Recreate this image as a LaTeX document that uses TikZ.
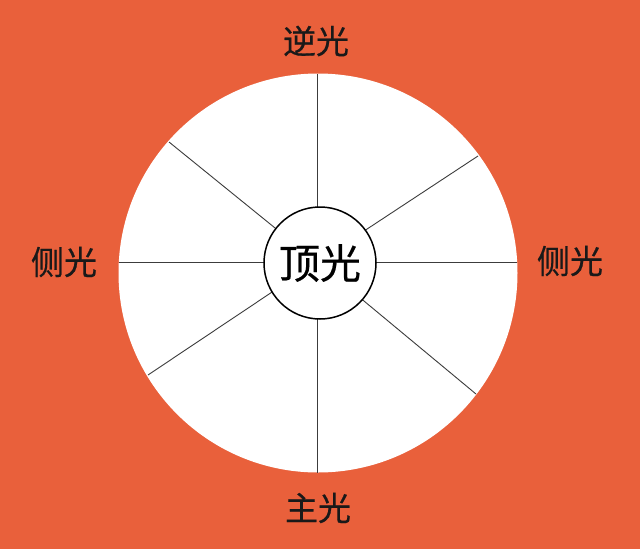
\documentclass[tikz,border=0pt]{standalone}
\usepackage{fontspec}
\newfontfamily\cjk[FakeBold=0.5]{Noto Sans CJK SC}
\definecolor{bgorange}{RGB}{233,96,59}
\definecolor{spokegray}{RGB}{60,60,60}
\begin{document}
\begin{tikzpicture}[x=1pt,y=-1pt,
  lbl/.style={font=\cjk\fontsize{33}{33}\selectfont, text=black!90, inner sep=0pt},
  spoke/.style={draw=spokegray, line width=0.9pt},
  hub/.style={circle, draw=black, line width=1.5pt, fill=white, minimum size=112pt, inner sep=0pt,
    font=\cjk\fontsize{41}{41}\selectfont}]
\fill[bgorange] (0,0) rectangle (640,549);
\useasboundingbox (0,0) rectangle (640,549);
\node[circle, fill=white, minimum size=399pt, inner sep=0pt] (outer) at (318,273) {};
\coordinate (c) at (317,262);
\coordinate (pT) at (317,74);
\coordinate (pB) at (317,473);
\coordinate (pL) at (119,262);
\coordinate (pR) at (517,262);
\coordinate (pUL) at (169,142);
\coordinate (pUR) at (478,156);
\coordinate (pLL) at (148,375);
\coordinate (pLR) at (476,394);
\foreach \p in {pT,pB,pL,pR,pUL,pUR,pLL,pLR}{\draw[spoke] (c) -- (\p);}
\node[hub] (hub) at (320,263) {顶光};
\node[lbl] (back) at (316,41) {逆光};
\node[lbl] (sideL) at (64,262) {侧光};
\node[lbl] (sideR) at (570,261) {侧光};
\node[lbl] (main) at (318,508) {主光};
\end{tikzpicture}
\end{document}
